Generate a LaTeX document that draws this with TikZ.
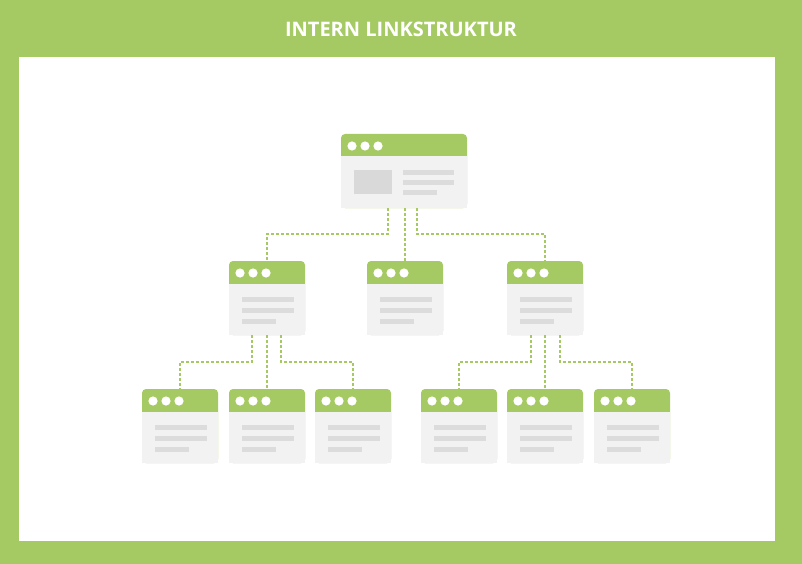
\documentclass[tikz,border=0pt]{standalone}
\usepackage{fontspec}
\setmainfont{Open Sans}
\usetikzlibrary{calc}
\definecolor{lg}{HTML}{A6CA63}
\definecolor{bodyc}{HTML}{F2F2F2}
\definecolor{linec}{HTML}{DCDCDC}
\definecolor{imgc}{HTML}{D9D9D9}
\tikzset{
  win/.style={fill=lg, rounded corners=4pt, minimum width=76pt, minimum height=74pt, inner sep=0pt, outer sep=0pt},
  bigwin/.style={win, minimum width=126pt},
  conn/.style={draw=lg, line width=1.2pt, dash pattern=on 3pt off 2pt},
  bar/.style={fill=linec},
}
\newcommand\winparts[1]{%
  \fill[bodyc] ($(#1.north west)+(0,22.5)$) rectangle (#1.south east);
  \foreach \dx in {11,24,37} \fill[white] ($(#1.north west)+(\dx,12)$) circle (4.6pt);
}
\newcommand\winbars[1]{%
  \fill[bar] ($(#1.north west)+(12.5,36)$) rectangle ++(52,5);
  \fill[bar] ($(#1.north west)+(12.5,47)$) rectangle ++(52,5);
  \fill[bar] ($(#1.north west)+(12.5,58)$) rectangle ++(34,5);
}
\begin{document}
\begin{tikzpicture}[x=1pt,y=-1pt]
\useasboundingbox (0,0) rectangle (802,564);
\fill[lg] (0,0) rectangle (802,564);
\fill[white] (19,57) rectangle (775,541);
\node[text=white, font=\bfseries\fontsize{20}{24}\selectfont] (title) at (401,29) {INTERN LINKSTRUKTUR};

% windows
\node[bigwin] (top) at (404,171) {};
\node[win] (l) at (267,298) {};
\node[win] (m) at (405,298) {};
\node[win] (r) at (545,298) {};
\node[win] (b1) at (180,426) {};
\node[win] (b2) at (267,426) {};
\node[win] (b3) at (353,426) {};
\node[win] (b4) at (459,426) {};
\node[win] (b5) at (545,426) {};
\node[win] (b6) at (632,426) {};

\winparts{top}
\fill[imgc] ($(top.north west)+(13,36)$) rectangle ++(38,24);
\fill[bar] ($(top.north west)+(62,36)$) rectangle ++(51,5);
\fill[bar] ($(top.north west)+(62,46)$) rectangle ++(51,5);
\fill[bar] ($(top.north west)+(62,56)$) rectangle ++(34,4.5);

\foreach \n in {l,m,r,b1,b2,b3,b4,b5,b6}{\winparts{\n}\winbars{\n}}

% connectors
\draw[conn] ($(top.south)+(-16,0)$) -- ++(0,26) -| (l.north);
\draw[conn] (m.north |- top.south) -- (m.north);
\draw[conn] ($(top.south)+(13,0)$) -- ++(0,26) -| (r.north);

\draw[conn] ($(l.south)+(-15,0)$) -- ++(0,27) -| (b1.north);
\draw[conn] (b2.north |- l.south) -- (b2.north);
\draw[conn] ($(l.south)+(14,0)$) -- ++(0,27) -| (b3.north);

\draw[conn] ($(r.south)+(-14,0)$) -- ++(0,27) -| (b4.north);
\draw[conn] (b5.north |- r.south) -- (b5.north);
\draw[conn] ($(r.south)+(15,0)$) -- ++(0,27) -| (b6.north);
\end{tikzpicture}
\end{document}
